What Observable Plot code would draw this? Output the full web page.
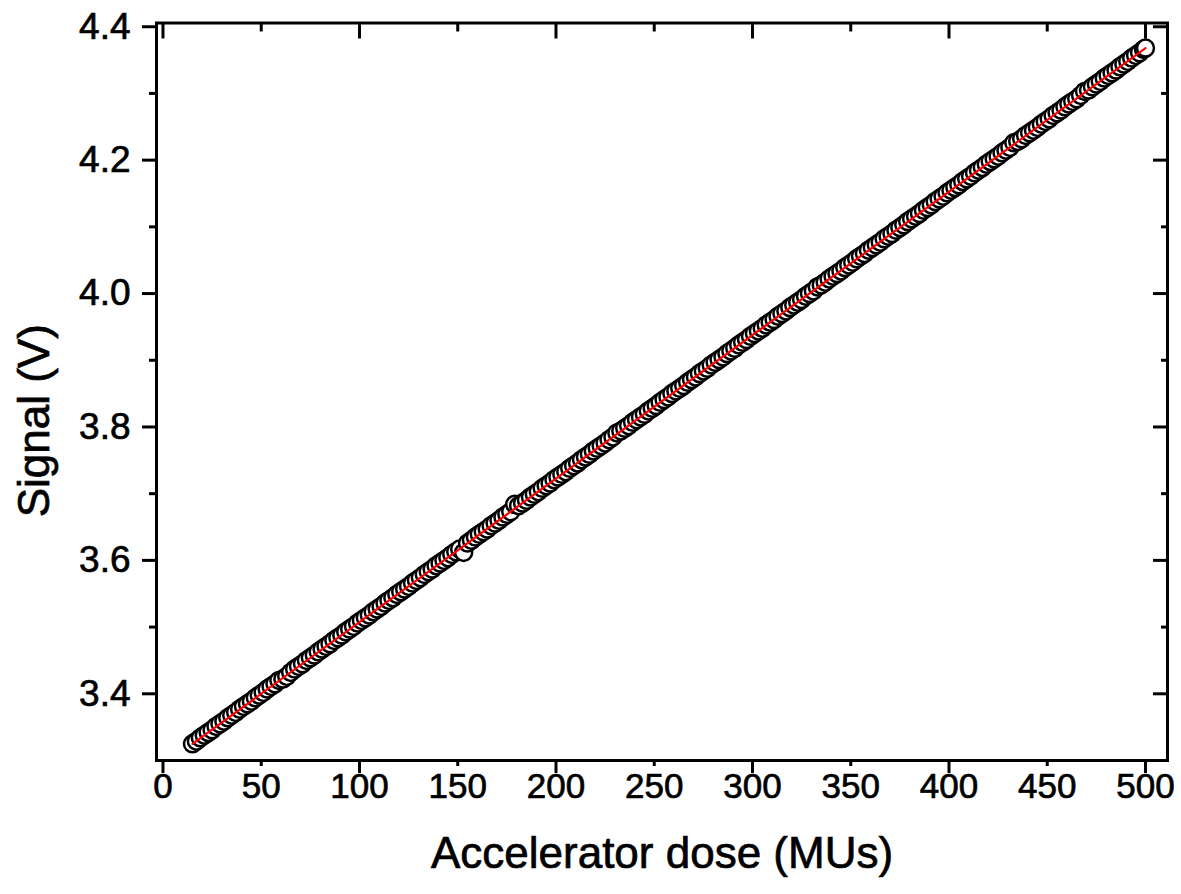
<!DOCTYPE html>
<html><head><meta charset="utf-8">
<script src="https://cdn.jsdelivr.net/npm/d3@7"></script>
<script src="https://cdn.jsdelivr.net/npm/@observablehq/plot@0.6"></script>
<style>body{margin:0;background:#fff} svg{display:block} #chart svg text{stroke:#000;stroke-width:0.7px}</style>
</head><body><div id="chart"></div>
<script>
const dose = [15,17,19,21,23,25,27,29,31,33,35,37,39,41,43,45,47,49,51,53,55,57,59,61,63,65,67,69,71,73,75,77,79,81,83,85,87,89,91,93,95,97,99,
101,103,105,107,109,111,113,115,117,119,121,123,125,127,129,131,133,135,137,139,141,143,145,147,149,151,153,155,157,159,161,163,165,167,169,171,173,175,177,179,181,183,185,187,189,191,193,195,197,199,
201,203,205,207,209,211,213,215,217,219,221,223,225,227,229,231,233,235,237,239,241,243,245,247,249,251,253,255,257,259,261,263,265,267,269,271,273,275,277,279,281,283,285,287,289,291,293,295,297,299,
301,303,305,307,309,311,313,315,317,319,321,323,325,327,329,331,333,335,337,339,341,343,345,347,349,351,353,355,357,359,361,363,365,367,369,371,373,375,377,379,381,383,385,387,389,391,393,395,397,399,
401,403,405,407,409,411,413,415,417,419,421,423,425,427,429,431,433,435,437,439,441,443,445,447,449,451,453,455,457,459,461,463,465,467,469,471,473,475,477,479,481,483,485,487,489,491,493,495,497,499,500];
const signal = [3.325,3.329,3.334,3.338,3.342,3.346,3.351,3.355,3.359,3.364,3.368,3.372,3.377,3.381,3.385,3.389,3.394,3.398,3.402,3.407,3.411,3.415,3.420,3.422,3.426,3.432,3.437,3.441,3.445,3.450,3.454,3.458,3.463,3.467,3.471,3.475,3.480,3.484,3.488,3.493,3.497,3.501,3.506,
3.510,3.514,3.518,3.523,3.527,3.531,3.536,3.540,3.544,3.549,3.553,3.557,3.561,3.566,3.570,3.574,3.579,3.583,3.587,3.592,3.596,3.600,3.604,3.609,3.613,3.617,3.612,3.626,3.630,3.635,3.639,3.643,3.647,3.652,3.656,3.660,3.665,3.669,3.673,3.684,3.682,3.686,3.690,3.695,3.699,3.703,3.708,3.712,3.716,3.721,
3.725,3.729,3.733,3.738,3.742,3.746,3.751,3.755,3.759,3.764,3.768,3.772,3.776,3.781,3.785,3.791,3.794,3.798,3.802,3.807,3.811,3.815,3.819,3.824,3.828,3.832,3.837,3.841,3.845,3.850,3.854,3.858,3.862,3.867,3.871,3.875,3.880,3.884,3.888,3.893,3.897,3.901,3.905,3.910,3.914,3.918,3.923,3.927,3.931,3.936,
3.940,3.944,3.948,3.953,3.957,3.961,3.966,3.970,3.974,3.979,3.983,3.987,3.991,3.996,4.000,4.004,4.010,4.013,4.017,4.022,4.026,4.030,4.034,4.039,4.043,4.047,4.052,4.056,4.060,4.065,4.069,4.073,4.077,4.082,4.086,4.090,4.095,4.099,4.103,4.108,4.112,4.116,4.120,4.125,4.129,4.133,4.138,4.142,4.146,4.151,
4.155,4.159,4.163,4.168,4.172,4.176,4.181,4.185,4.189,4.194,4.198,4.202,4.206,4.211,4.215,4.219,4.226,4.228,4.232,4.237,4.241,4.245,4.249,4.254,4.258,4.262,4.267,4.271,4.275,4.280,4.284,4.288,4.292,4.297,4.303,4.305,4.310,4.314,4.318,4.323,4.327,4.331,4.335,4.340,4.344,4.348,4.353,4.357,4.361,4.366,4.368];

const xMajorTicks = [0,100,200,300,400,500];
const xMinorTicks = [50,150,250,350,450];
const xTickLabels = [0,50,100,150,200,250,300,350,400,450,500];
const yMajorTicks = [3.4,3.6,3.8,4.0,4.2,4.4];
const yMinorTicks = [3.5,3.7,3.9,4.1,4.3];
const xTitle = "Accelerator dose (MUs)";
const yTitle = "Signal (V)";

const data = dose.map((d, i) => ({dose: d, signal: signal[i]}));
const font = "'Liberation Sans', Arial, Helvetica, sans-serif";

const chart = Plot.plot({
  width: 1181, height: 894,
  marginLeft: 156, marginRight: 14, marginTop: 22.5, marginBottom: 134,
  style: {fontFamily: font, background: "#fff", color: "#000"},
  x: {domain: [-3.3, 511.2]},
  y: {domain: [3.3, 4.4056]},
  marks: [
    Plot.dot(data, {x: "dose", y: "signal", r: 8.5, stroke: "#000", fill: "#fff", strokeWidth: 2.5}),
    Plot.linearRegressionY(data, {x: "dose", y: "signal", stroke: "#ff0000", strokeWidth: 2.2, ci: 0}),
    Plot.frame({stroke: "#000", strokeWidth: 3}),
    // bottom ticks
    Plot.axisX(xMajorTicks, {anchor: "bottom", tickSize: 13, strokeWidth: 3, fill: "none", label: null}),
    Plot.axisX(xMinorTicks, {anchor: "bottom", tickSize: 6, strokeWidth: 3, fill: "none", label: null}),
    Plot.axisX(xTickLabels, {anchor: "bottom", tickSize: 0, tickPadding: 13, fontSize: 35, fill: "#000", label: null, tickFormat: d => String(d)}),
    // top ticks (inward)
    Plot.axisX(xMajorTicks, {anchor: "top", tickSize: -15, strokeWidth: 3, fill: "none", label: null}),
    Plot.axisX(xMinorTicks, {anchor: "top", tickSize: -8, strokeWidth: 3, fill: "none", label: null}),
    // left ticks
    Plot.axisY(yMajorTicks, {anchor: "left", tickSize: 14, strokeWidth: 3, fill: "none", label: null}),
    Plot.axisY(yMinorTicks, {anchor: "left", tickSize: 7, strokeWidth: 3, fill: "none", label: null}),
    Plot.axisY(yMajorTicks, {anchor: "left", tickSize: 0, tickPadding: 26, fontSize: 37, fill: "#000", label: null, tickFormat: d3.format(".1f")}),
    // right ticks (inward)
    Plot.axisY(yMajorTicks, {anchor: "right", tickSize: -15, strokeWidth: 3, fill: "none", label: null}),
    Plot.axisY(yMinorTicks, {anchor: "right", tickSize: -7, strokeWidth: 3, fill: "none", label: null}),
    // titles
    Plot.text([xTitle], {frameAnchor: "bottom", dy: 107, lineAnchor: "bottom", textAnchor: "middle", fontSize: 44, fill: "#000"}),
    Plot.text([yTitle], {frameAnchor: "left", rotate: -90, dx: -108, dy: 29, lineAnchor: "bottom", textAnchor: "middle", fontSize: 44, fill: "#000"})
  ]
});
document.getElementById("chart").append(chart);
</script>
</body></html>
